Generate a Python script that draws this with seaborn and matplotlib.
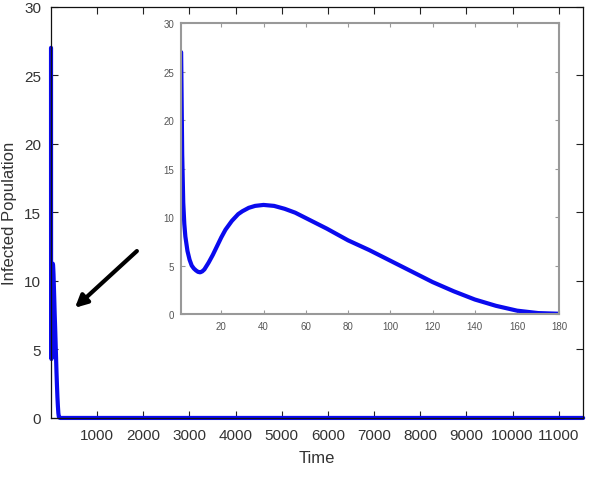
import matplotlib
matplotlib.use("Agg")
import matplotlib.pyplot as plt
import seaborn as sns
import pandas as pd

# Data
time = [1, 1.5, 2, 2.5, 3, 4, 5, 6, 7, 8, 9, 10, 11, 12, 14, 16, 18, 20, 22, 25, 28, 30,
        33, 36, 40, 45, 50, 55, 60, 70, 80, 90, 100, 110, 120, 130, 140, 150, 160, 170, 180]
infected = [27.0, 16.5, 11.5, 9.3, 8.0, 6.5, 5.6, 5.0, 4.7, 4.5, 4.35, 4.3, 4.4, 4.6, 5.3, 6.1,
            7.0, 7.9, 8.7, 9.6, 10.3, 10.6, 10.95, 11.15, 11.25, 11.15, 10.85, 10.45, 9.9,
            8.8, 7.6, 6.6, 5.5, 4.4, 3.3, 2.35, 1.5, 0.85, 0.35, 0.1, 0.03]
tail_time = [200, 11530]
tail_infected = [0.0, 0.0]

main_xticks = [1000, 2000, 3000, 4000, 5000, 6000, 7000, 8000, 9000, 10000, 11000]
yticks = [0, 5, 10, 15, 20, 25, 30]
inset_xticks = [20, 40, 60, 80, 100, 120, 140, 160, 180]

sns.set_style("ticks")
plt.rcParams['font.family'] = ['Liberation Sans', 'DejaVu Sans']

df_main = pd.DataFrame({"Time": time + tail_time, "Infected": infected + tail_infected})
df_in = pd.DataFrame({"Time": time, "Infected": infected})

fig = plt.figure(figsize=(5.9, 4.81), dpi=100)
ax = fig.add_axes([0.0864, 0.129, 0.902, 0.855])
sns.lineplot(data=df_main, x="Time", y="Infected", ax=ax, color="#0a0aee", linewidth=3.0)
for ln in ax.lines:
    ln.set_clip_on(False)
    ln.set_solid_joinstyle("round")
ax.set_xlim(0, 11530)
ax.set_ylim(0, 30)
ax.set_xticks(main_xticks)
ax.set_yticks(yticks)
ax.tick_params(direction="in", length=5, width=0.8, top=True, right=True,
               labelsize=11, labelcolor="#333333", color="#222222", pad=7)
for s in ax.spines.values():
    s.set_color("#111111")
    s.set_linewidth(0.9)
ax.set_xlabel("Time", fontsize=12, color="#333333", labelpad=6)
ax.set_ylabel("Infected Population", fontsize=12, color="#333333", labelpad=5)

# Inset
axi = fig.add_axes([0.307, 0.345, 0.641, 0.605])
sns.lineplot(data=df_in, x="Time", y="Infected", ax=axi, color="#0a0aee", linewidth=3.0)
for ln in axi.lines:
    ln.set_solid_joinstyle("round")
axi.set_xlim(1, 180)
axi.set_ylim(0, 30)
axi.set_xticks(inset_xticks)
axi.set_yticks(yticks)
axi.tick_params(direction="in", length=3, width=0.8, top=True, right=True,
                labelsize=7, labelcolor="#555555", color="#999999", pad=5)
for s in axi.spines.values():
    s.set_color("#999999")
    s.set_linewidth(1.5)
axi.set_xlabel("")
axi.set_ylabel("")

# Arrow
ax.annotate("", xy=(0.127, 0.358), xycoords="figure fraction",
            xytext=(0.232, 0.476), textcoords="figure fraction",
            arrowprops=dict(arrowstyle="-|>", color="black", lw=3,
                            mutation_scale=18, shrinkA=0, shrinkB=0))

fig.savefig("out.png", dpi=100)
